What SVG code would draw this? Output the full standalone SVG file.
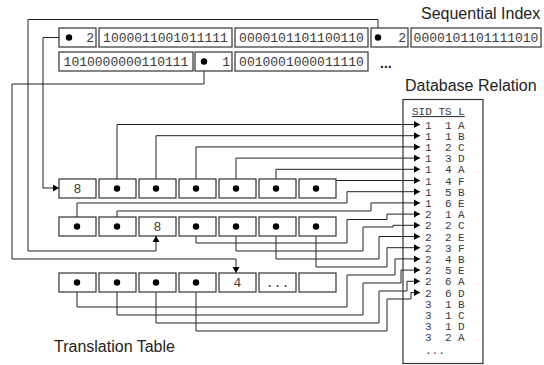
<svg xmlns="http://www.w3.org/2000/svg" width="544" height="365" viewBox="0 0 544 365">
  <style>
    .cell { fill: #fff; stroke: #333; stroke-width: 1.2; }
    .mono { font-family: "Liberation Mono", "Courier New", monospace; font-size: 13px; fill: #3a3a3a; }
    .rel { font-family: "Liberation Mono", "Courier New", monospace; font-size: 11px; fill: #3a3a3a; }
    .label { font-family: "Liberation Sans", Arial, sans-serif; font-size: 16px; fill: #222; }
    .wire { fill: none; stroke: #222; stroke-width: 1; }
    .dot { fill: #000; }
  </style>
  <defs>
    <marker id="arr" viewBox="0 0 6 7" refX="6" refY="3.5" markerWidth="6" markerHeight="7" markerUnits="userSpaceOnUse" orient="auto">
      <path d="M0,0 L6,3.5 L0,7 z" fill="#000"/>
    </marker>
  </defs>
  <rect width="544" height="365" fill="#fff"/>

  <!-- titles -->
  <text class="label" x="421" y="18.5">Sequential Index</text>
  <text class="label" x="405" y="91">Database Relation</text>
  <text class="label" x="54" y="352">Translation Table</text>

  <!-- connectors -->
  <g id="connectors" class="wire">
    <!-- sequential index pointers into the translation table -->
    <path d="M69,37.5 H43 V188 H59" marker-end="url(#arr)"/>
    <path d="M378,37.5 V19.5 H28 V251 H156 V236" marker-end="url(#arr)"/>
    <path d="M204,61.5 V84 H12 V259 H236 V273" marker-end="url(#arr)"/>
    <!-- translation table row 1 -->
    <path d="M117,188.5 V124.5 H420" marker-end="url(#arr)"/>
    <path d="M156,188.5 V135.7 H420" marker-end="url(#arr)"/>
    <path d="M196,188.5 V146.9 H420" marker-end="url(#arr)"/>
    <path d="M236,188.5 V158.1 H420" marker-end="url(#arr)"/>
    <path d="M276,188.5 V169.3 H420" marker-end="url(#arr)"/>
    <path d="M316,188.5 V180.5 H420" marker-end="url(#arr)"/>
    <!-- translation table row 2 -->
    <path d="M77,226.5 V203 H347 V191.7 H420" marker-end="url(#arr)"/>
    <path d="M117,226.5 V211 H371 V202.9 H420" marker-end="url(#arr)"/>
    <path d="M196,226.5 V243 H347 V219.5 H387 V214.1 H420" marker-end="url(#arr)"/>
    <path d="M236,226.5 V251 H363 V227 H393 V225.3 H420" marker-end="url(#arr)"/>
    <path d="M276,226.5 V259 H379 V236.5 H420" marker-end="url(#arr)"/>
    <path d="M316,226.5 V267 H387 V247.7 H420" marker-end="url(#arr)"/>
    <!-- translation table row 3 -->
    <path d="M77,282.5 V307 H347 V275 H395 V258.9 H420" marker-end="url(#arr)"/>
    <path d="M117,282.5 V315 H363 V283 H401 V270.1 H420" marker-end="url(#arr)"/>
    <path d="M156,282.5 V323 H379 V291 H407 V281.3 H420" marker-end="url(#arr)"/>
    <path d="M196,282.5 V331 H387 V299 H411 V292.5 H420" marker-end="url(#arr)"/>
  </g>

  <!-- sequential index -->
  <g id="seq-a"><rect class="cell" x="59" y="28" width="37" height="19"/><circle class="dot" cx="69" cy="37.5" r="3.2"/><text class="mono" x="94" y="42" text-anchor="end">2</text></g>
  <g id="seq-b"><rect class="cell" x="99" y="28" width="133" height="19"/><text class="mono" x="165.5" y="42" text-anchor="middle">1000011001011111</text></g>
  <g id="seq-c"><rect class="cell" x="235" y="28" width="133" height="19"/><text class="mono" x="301.5" y="42" text-anchor="middle">0000101101100110</text></g>
  <g id="seq-d"><rect class="cell" x="371" y="28" width="37" height="19"/><circle class="dot" cx="378" cy="37.5" r="3.2"/><text class="mono" x="406" y="42" text-anchor="end">2</text></g>
  <g id="seq-e"><rect class="cell" x="411" y="28" width="130" height="19"/><text class="mono" x="476" y="42" text-anchor="middle">0000101101111010</text></g>
  <g id="seq-f"><rect class="cell" x="59" y="52" width="134" height="19"/><text class="mono" x="126" y="66" text-anchor="middle">1010000000110111</text></g>
  <g id="seq-g"><rect class="cell" x="195" y="52" width="37" height="19"/><circle class="dot" cx="204" cy="61.5" r="3.2"/><text class="mono" x="230" y="66" text-anchor="end">1</text></g>
  <g id="seq-h"><rect class="cell" x="235" y="52" width="133" height="19"/><text class="mono" x="301.5" y="66" text-anchor="middle">0010001000011110</text></g>
  <text x="380" y="68" font-family="Liberation Sans, Arial, sans-serif" font-size="14" font-weight="bold" fill="#222">...</text>

  <!-- translation table, row 1 -->
  <g id="tt-1-1"><rect class="cell" x="59" y="179" width="37" height="19"/><text class="mono" x="77.5" y="193" text-anchor="middle">8</text></g>
  <g id="tt-1-2"><rect class="cell" x="99" y="179" width="37" height="19"/><circle class="dot" cx="117" cy="188.5" r="3.2"/></g>
  <g id="tt-1-3"><rect class="cell" x="139" y="179" width="37" height="19"/><circle class="dot" cx="156" cy="188.5" r="3.2"/></g>
  <g id="tt-1-4"><rect class="cell" x="179" y="179" width="37" height="19"/><circle class="dot" cx="196" cy="188.5" r="3.2"/></g>
  <g id="tt-1-5"><rect class="cell" x="219" y="179" width="37" height="19"/><circle class="dot" cx="236" cy="188.5" r="3.2"/></g>
  <g id="tt-1-6"><rect class="cell" x="259" y="179" width="37" height="19"/><circle class="dot" cx="276" cy="188.5" r="3.2"/></g>
  <g id="tt-1-7"><rect class="cell" x="299" y="179" width="37" height="19"/><circle class="dot" cx="316" cy="188.5" r="3.2"/></g>

  <!-- translation table, row 2 -->
  <g id="tt-2-1"><rect class="cell" x="59" y="217" width="37" height="19"/><circle class="dot" cx="77" cy="226.5" r="3.2"/></g>
  <g id="tt-2-2"><rect class="cell" x="99" y="217" width="37" height="19"/><circle class="dot" cx="117" cy="226.5" r="3.2"/></g>
  <g id="tt-2-3"><rect class="cell" x="139" y="217" width="37" height="19"/><text class="mono" x="157.5" y="231" text-anchor="middle">8</text></g>
  <g id="tt-2-4"><rect class="cell" x="179" y="217" width="37" height="19"/><circle class="dot" cx="196" cy="226.5" r="3.2"/></g>
  <g id="tt-2-5"><rect class="cell" x="219" y="217" width="37" height="19"/><circle class="dot" cx="236" cy="226.5" r="3.2"/></g>
  <g id="tt-2-6"><rect class="cell" x="259" y="217" width="37" height="19"/><circle class="dot" cx="276" cy="226.5" r="3.2"/></g>
  <g id="tt-2-7"><rect class="cell" x="299" y="217" width="37" height="19"/><circle class="dot" cx="316" cy="226.5" r="3.2"/></g>

  <!-- translation table, row 3 -->
  <g id="tt-3-1"><rect class="cell" x="59" y="273" width="37" height="19"/><circle class="dot" cx="77" cy="282.5" r="3.2"/></g>
  <g id="tt-3-2"><rect class="cell" x="99" y="273" width="37" height="19"/><circle class="dot" cx="117" cy="282.5" r="3.2"/></g>
  <g id="tt-3-3"><rect class="cell" x="139" y="273" width="37" height="19"/><circle class="dot" cx="156" cy="282.5" r="3.2"/></g>
  <g id="tt-3-4"><rect class="cell" x="179" y="273" width="37" height="19"/><circle class="dot" cx="196" cy="282.5" r="3.2"/></g>
  <g id="tt-3-5"><rect class="cell" x="219" y="273" width="37" height="19"/><text class="mono" x="237.5" y="287" text-anchor="middle">4</text></g>
  <g id="tt-3-6"><rect class="cell" x="259" y="273" width="37" height="19"/><text class="mono" x="277.5" y="287" text-anchor="middle">...</text></g>
  <g id="tt-3-7"><rect class="cell" x="299" y="273" width="37" height="19"/></g>

  <!-- database relation -->
  <g id="relation">
    <rect x="403" y="99.5" width="80" height="264" fill="none" stroke="#333" stroke-width="1.2"/>
    <text class="rel" x="412" y="115" text-decoration="underline">SID TS L</text>
    <g class="rel">
      <text y="128.5"><tspan x="425">1</tspan><tspan x="445">1</tspan><tspan x="458">A</tspan></text>
      <text y="139.7"><tspan x="425">1</tspan><tspan x="445">1</tspan><tspan x="458">B</tspan></text>
      <text y="150.9"><tspan x="425">1</tspan><tspan x="445">2</tspan><tspan x="458">C</tspan></text>
      <text y="162.1"><tspan x="425">1</tspan><tspan x="445">3</tspan><tspan x="458">D</tspan></text>
      <text y="173.3"><tspan x="425">1</tspan><tspan x="445">4</tspan><tspan x="458">A</tspan></text>
      <text y="184.5"><tspan x="425">1</tspan><tspan x="445">4</tspan><tspan x="458">F</tspan></text>
      <text y="195.7"><tspan x="425">1</tspan><tspan x="445">5</tspan><tspan x="458">B</tspan></text>
      <text y="206.9"><tspan x="425">1</tspan><tspan x="445">6</tspan><tspan x="458">E</tspan></text>
      <text y="218.1"><tspan x="425">2</tspan><tspan x="445">1</tspan><tspan x="458">A</tspan></text>
      <text y="229.3"><tspan x="425">2</tspan><tspan x="445">2</tspan><tspan x="458">C</tspan></text>
      <text y="240.5"><tspan x="425">2</tspan><tspan x="445">2</tspan><tspan x="458">E</tspan></text>
      <text y="251.7"><tspan x="425">2</tspan><tspan x="445">3</tspan><tspan x="458">F</tspan></text>
      <text y="262.9"><tspan x="425">2</tspan><tspan x="445">4</tspan><tspan x="458">B</tspan></text>
      <text y="274.1"><tspan x="425">2</tspan><tspan x="445">5</tspan><tspan x="458">E</tspan></text>
      <text y="285.3"><tspan x="425">2</tspan><tspan x="445">6</tspan><tspan x="458">A</tspan></text>
      <text y="296.5"><tspan x="425">2</tspan><tspan x="445">6</tspan><tspan x="458">D</tspan></text>
      <text y="307.7"><tspan x="425">3</tspan><tspan x="445">1</tspan><tspan x="458">B</tspan></text>
      <text y="318.9"><tspan x="425">3</tspan><tspan x="445">1</tspan><tspan x="458">C</tspan></text>
      <text y="330.1"><tspan x="425">3</tspan><tspan x="445">1</tspan><tspan x="458">D</tspan></text>
      <text y="341.3"><tspan x="425">3</tspan><tspan x="445">2</tspan><tspan x="458">A</tspan></text>
      <text x="425" y="353.5">...</text>
    </g>
  </g>
</svg>
